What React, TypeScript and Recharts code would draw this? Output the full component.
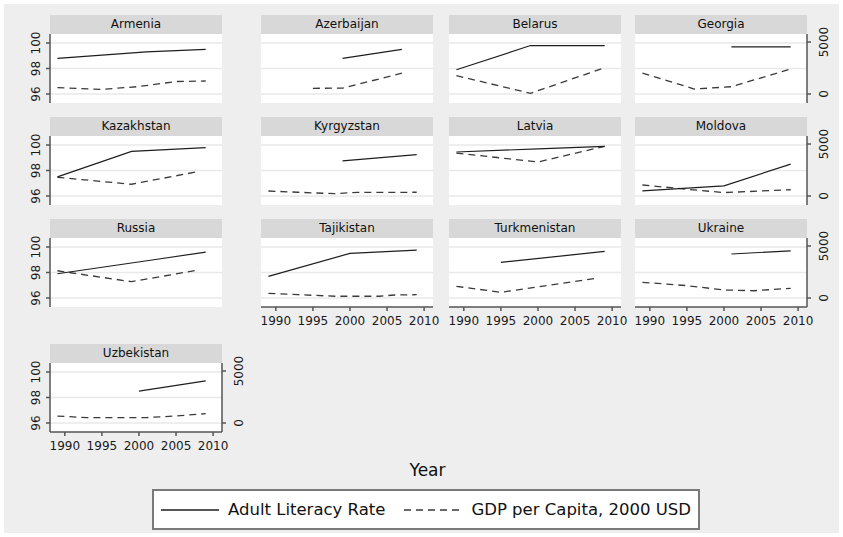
import React from 'react';
import { LineChart, Line, XAxis, YAxis, CartesianGrid, ReferenceLine } from 'recharts';

// year ticks and axis ticks
const yearTicks = [1990, 1995, 2000, 2005, 2010];
const literacyTicks = [96, 98, 100];
const gdpTicks = [0, 5000];

// [year, adult literacy rate %]
const armeniaLit = [[1989, 98.8], [2001, 99.3], [2009, 99.5]];
const azerbaijanLit = [[1999, 98.8], [2007, 99.5]];
const belarusLit = [[1989, 97.9], [1999, 99.8], [2009, 99.8]];
const georgiaLit = [[2001, 99.7], [2009, 99.7]];
const kazakhstanLit = [[1989, 97.5], [1999, 99.5], [2009, 99.8]];
const kyrgyzstanLit = [[1999, 98.75], [2009, 99.25]];
const latviaLit = [[1989, 99.45], [2000, 99.7], [2009, 99.9]];
const moldovaLit = [[1989, 96.4], [2000, 96.8], [2009, 98.5]];
const russiaLit = [[1989, 97.9], [2002, 99.0], [2009, 99.6]];
const tajikistanLit = [[1989, 97.7], [2000, 99.5], [2009, 99.75]];
const turkmenistanLit = [[1995, 98.8], [2009, 99.65]];
const ukraineLit = [[2001, 99.45], [2009, 99.7]];
const uzbekistanLit = [[2000, 98.5], [2009, 99.3]];

// [year, GDP per capita, 2000 USD]
const armeniaGdp = [[1989, 610], [1995, 440], [2000, 720], [2005, 1200], [2009, 1250]];
const azerbaijanGdp = [[1995, 550], [1999, 560], [2007, 2000]];
const belarusGdp = [[1989, 1760], [1999, 70], [2009, 2530]];
const georgiaGdp = [[1989, 2000], [1996, 480], [2001, 700], [2009, 2400]];
const kazakhstanGdp = [[1989, 1800], [1999, 1130], [2008, 2350]];
const kyrgyzstanGdp = [[1989, 480], [1993, 360], [1998, 220], [2001, 350], [2009, 360]];
const latviaGdp = [[1989, 4130], [2000, 3270], [2009, 4780]];
const moldovaGdp = [[1989, 1060], [1995, 650], [2000, 330], [2009, 600]];
const russiaGdp = [[1989, 2620], [1999, 1570], [2008, 2690]];
const tajikistanGdp = [[1989, 450], [1993, 320], [1998, 170], [2004, 170], [2006, 290], [2009, 320]];
const turkmenistanGdp = [[1989, 1125], [1995, 550], [2008, 1920]];
const ukraineGdp = [[1989, 1510], [1995, 1190], [2000, 770], [2004, 700], [2009, 930]];
const uzbekistanGdp = [[1989, 670], [1993, 520], [2001, 520], [2005, 680], [2009, 900]];

const FONT = '"DejaVu Sans", sans-serif';
const PLOT_W = 172;
const PLOT_H = 69;
const HEADER_H = 19;
const SIDE = 50;
const TOP = 20;
const BOTTOM = 30;
const COL_X = [50, 261, 449, 635];
const ROW_Y = [34, 136, 238, 363];

type Pt = number[];
type PanelProps = {
  name: string;
  lit: Pt[];
  gdp: Pt[];
  col: number;
  row: number;
  left?: boolean;
  right?: boolean;
  bottom?: boolean;
};

const panels: PanelProps[] = [
  { name: 'Armenia', lit: armeniaLit, gdp: armeniaGdp, col: 0, row: 0, left: true },
  { name: 'Azerbaijan', lit: azerbaijanLit, gdp: azerbaijanGdp, col: 1, row: 0 },
  { name: 'Belarus', lit: belarusLit, gdp: belarusGdp, col: 2, row: 0 },
  { name: 'Georgia', lit: georgiaLit, gdp: georgiaGdp, col: 3, row: 0, right: true },
  { name: 'Kazakhstan', lit: kazakhstanLit, gdp: kazakhstanGdp, col: 0, row: 1, left: true },
  { name: 'Kyrgyzstan', lit: kyrgyzstanLit, gdp: kyrgyzstanGdp, col: 1, row: 1 },
  { name: 'Latvia', lit: latviaLit, gdp: latviaGdp, col: 2, row: 1 },
  { name: 'Moldova', lit: moldovaLit, gdp: moldovaGdp, col: 3, row: 1, right: true },
  { name: 'Russia', lit: russiaLit, gdp: russiaGdp, col: 0, row: 2, left: true },
  { name: 'Tajikistan', lit: tajikistanLit, gdp: tajikistanGdp, col: 1, row: 2, bottom: true },
  { name: 'Turkmenistan', lit: turkmenistanLit, gdp: turkmenistanGdp, col: 2, row: 2, bottom: true },
  { name: 'Ukraine', lit: ukraineLit, gdp: ukraineGdp, col: 3, row: 2, right: true, bottom: true },
  { name: 'Uzbekistan', lit: uzbekistanLit, gdp: uzbekistanGdp, col: 0, row: 3, left: true, right: true, bottom: true },
];

const XTick = (props: any) => {
  const { x, y, payload } = props;
  return (
    <text x={x} y={y} dy={9} textAnchor="middle" fontSize={12} fontFamily={FONT} fill="#1a1a1a">
      {payload.value}
    </text>
  );
};

const YTick = (props: any) => {
  const { x, y, payload } = props;
  return (
    <text
      x={x}
      y={y}
      transform={`rotate(-90 ${x} ${y})`}
      textAnchor="middle"
      fontSize={12}
      fontFamily={FONT}
      fill="#1a1a1a"
    >
      {payload.value}
    </text>
  );
};

function Panel({ name, lit, gdp, col, row, left, right, bottom }: PanelProps) {
  const plotLeft = COL_X[col];
  const plotTop = ROW_Y[row];
  const litData = lit.map(([year, v]) => ({ year, v }));
  const gdpData = gdp.map(([year, v]) => ({ year, v }));
  return (
    <>
      <div style={{ position: 'absolute', left: plotLeft - SIDE, top: plotTop - TOP }}>
        <LineChart
          width={PLOT_W + 2 * SIDE}
          height={TOP + PLOT_H + BOTTOM}
          margin={{ top: TOP, left: left ? 0 : SIDE, right: right ? 0 : SIDE, bottom: bottom ? 0 : BOTTOM }}
        >
          <CartesianGrid yAxisId="l" fill="#ffffff" stroke="none" vertical={false} horizontal={false} />
          <XAxis
            type="number"
            dataKey="year"
            domain={[1988, 2011.2]}
            ticks={yearTicks}
            interval={0}
            allowDataOverflow
            hide={!bottom}
            height={BOTTOM}
            tickSize={4}
            tickMargin={5}
            tick={<XTick />}
            stroke="#555"
            strokeWidth={1.5}
          />
          <YAxis
            yAxisId="l"
            orientation="left"
            type="number"
            domain={[95.294, 100.706]}
            ticks={literacyTicks}
            interval={0}
            allowDataOverflow
            hide={!left}
            width={SIDE}
            tickSize={4}
            tickMargin={6}
            tick={<YTick />}
            stroke="#555"
            strokeWidth={1.5}
          />
          <YAxis
            yAxisId="r"
            orientation="right"
            type="number"
            domain={[-865, 5770]}
            ticks={gdpTicks}
            interval={0}
            allowDataOverflow
            hide={!right}
            width={SIDE}
            tickSize={4}
            tickMargin={17}
            tick={<YTick />}
            stroke="#555"
            strokeWidth={1.5}
          />
          {literacyTicks.map((t) => (
            <ReferenceLine key={t} yAxisId="l" y={t} stroke="#e9e9e9" strokeWidth={1.5} />
          ))}
          <Line
            yAxisId="r"
            data={gdpData}
            dataKey="v"
            stroke="#3a3a3a"
            strokeWidth={1.3}
            strokeDasharray="7 5"
            dot={false}
            isAnimationActive={false}
          />
          <Line
            yAxisId="l"
            data={litData}
            dataKey="v"
            stroke="#1e1e1e"
            strokeWidth={1.2}
            dot={false}
            isAnimationActive={false}
          />
        </LineChart>
      </div>
      <div
        style={{
          position: 'absolute',
          left: plotLeft,
          top: plotTop - HEADER_H,
          width: PLOT_W,
          height: HEADER_H,
          background: '#d8d8d8',
          fontFamily: FONT,
          fontSize: 12,
          lineHeight: `${HEADER_H}px`,
          textAlign: 'center',
          color: '#111',
        }}
      >
        {name}
      </div>
    </>
  );
}

export default function App() {
  return (
    <div style={{ position: 'absolute', left: 0, top: 0, width: 843, height: 537, background: '#fff' }}>
      <div style={{ position: 'absolute', left: 4, top: 4, right: 4, bottom: 4, background: '#eeeeee' }} />
      {panels.map((p) => (
        <Panel key={p.name} {...p} />
      ))}
      <div
        style={{
          position: 'absolute',
          left: 0,
          width: 855,
          top: 460,
          textAlign: 'center',
          fontFamily: FONT,
          fontSize: 17,
          color: '#111',
        }}
      >
        Year
      </div>
      <div
        style={{
          position: 'absolute',
          left: 152,
          top: 489,
          width: 548,
          height: 41,
          boxSizing: 'border-box',
          background: '#fff',
          border: '2px solid #7a7a7a',
          display: 'flex',
          alignItems: 'center',
          justifyContent: 'center',
          fontFamily: FONT,
          fontSize: 16.5,
          color: '#111',
          whiteSpace: 'nowrap',
        }}
      >
        <svg width={58} height={10} style={{ flexShrink: 0 }}>
          <line x1={0} x2={58} y1={5} y2={5} stroke="#1e1e1e" strokeWidth={1.4} />
        </svg>
        <span style={{ marginLeft: 9, marginRight: 19 }}>Adult Literacy Rate</span>
        <svg width={58} height={10} style={{ flexShrink: 0 }}>
          <line x1={0} x2={58} y1={5} y2={5} stroke="#3a3a3a" strokeWidth={1.4} strokeDasharray="7 5" />
        </svg>
        <span style={{ marginLeft: 9 }}>GDP per Capita, 2000 USD</span>
      </div>
    </div>
  );
}
